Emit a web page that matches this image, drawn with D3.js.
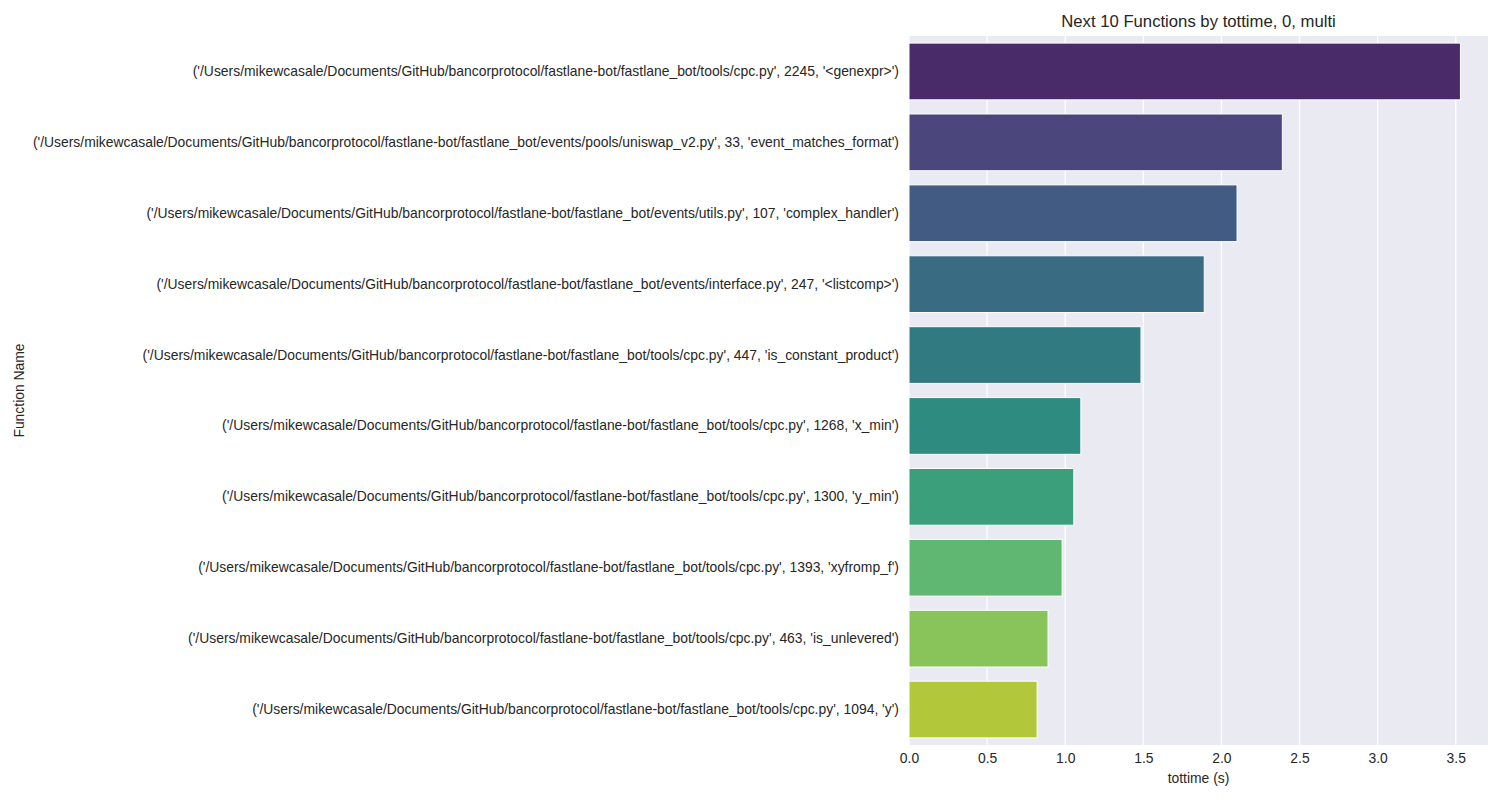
<!DOCTYPE html>
<html>
<head>
	<meta charset="utf-8">
	<script src="https://d3js.org/d3.v7.min.js"></script>
	<style type="text/css">
		body { margin: 0; background: #fff; }
		svg text { font-family: 'Liberation Sans', Arial, sans-serif; fill: #262626; }
	</style>
</head>
<body>
	<script type="text/javascript">
		// function names, top to bottom
		var names = [
			"('/Users/mikewcasale/Documents/GitHub/bancorprotocol/fastlane-bot/fastlane_bot/tools/cpc.py', 2245, '<genexpr>')",
			"('/Users/mikewcasale/Documents/GitHub/bancorprotocol/fastlane-bot/fastlane_bot/events/pools/uniswap_v2.py', 33, 'event_matches_format')",
			"('/Users/mikewcasale/Documents/GitHub/bancorprotocol/fastlane-bot/fastlane_bot/events/utils.py', 107, 'complex_handler')",
			"('/Users/mikewcasale/Documents/GitHub/bancorprotocol/fastlane-bot/fastlane_bot/events/interface.py', 247, '<listcomp>')",
			"('/Users/mikewcasale/Documents/GitHub/bancorprotocol/fastlane-bot/fastlane_bot/tools/cpc.py', 447, 'is_constant_product')",
			"('/Users/mikewcasale/Documents/GitHub/bancorprotocol/fastlane-bot/fastlane_bot/tools/cpc.py', 1268, 'x_min')",
			"('/Users/mikewcasale/Documents/GitHub/bancorprotocol/fastlane-bot/fastlane_bot/tools/cpc.py', 1300, 'y_min')",
			"('/Users/mikewcasale/Documents/GitHub/bancorprotocol/fastlane-bot/fastlane_bot/tools/cpc.py', 1393, 'xyfromp_f')",
			"('/Users/mikewcasale/Documents/GitHub/bancorprotocol/fastlane-bot/fastlane_bot/tools/cpc.py', 463, 'is_unlevered')",
			"('/Users/mikewcasale/Documents/GitHub/bancorprotocol/fastlane-bot/fastlane_bot/tools/cpc.py', 1094, 'y')"
		];
		var tottime = [3.53, 2.39, 2.10, 1.89, 1.485, 1.10, 1.055, 0.98, 0.89, 0.82];
		var xTicks = [0, 0.5, 1.0, 1.5, 2.0, 2.5, 3.0, 3.5];

		var W = 1500, H = 800;
		var pLeft = 909, pRight = 1488, pTop = 36, pBottom = 745;
		var fs = '13.9px';

		var svg = d3.select('body').append('svg')
			.attr('width', W)
			.attr('height', H);

		var x = d3.scaleLinear()
			.domain([0, d3.max(tottime) * 1.05])
			.range([pLeft, pRight]);

		var y = d3.scaleBand()
			.domain(names)
			.range([pTop, pBottom])
			.paddingInner(0.2)
			.paddingOuter(0.1);

		// seaborn-ish viridis with 0.75 saturation
		var colors = names.map(function(d, i){
			var c = d3.hsl(d3.interpolateViridis((i + 1) / (names.length + 1)));
			c.s = c.s * 0.75;
			return c.formatHex();
		});

		svg.append('rect')
			.attr('x', pLeft).attr('y', pTop)
			.attr('width', pRight - pLeft).attr('height', pBottom - pTop)
			.attr('fill', '#eaeaf2');

		svg.append('g')
			.selectAll('line')
			.data(xTicks)
			.enter()
			.append('line')
			.attr('x1', function(d){ return x(d); })
			.attr('x2', function(d){ return x(d); })
			.attr('y1', pTop).attr('y2', pBottom)
			.attr('stroke', '#fff')
			.attr('stroke-width', 1.25);

		svg.append('g')
			.selectAll('rect')
			.data(tottime)
			.enter()
			.append('rect')
			.attr('x', x(0))
			.attr('y', function(d, i){ return y(names[i]); })
			.attr('width', function(d){ return x(d) - x(0); })
			.attr('height', y.bandwidth())
			.attr('fill', function(d, i){ return colors[i]; })
			.attr('stroke', '#fff')
			.attr('stroke-width', 1);

		var xAxis = svg.append('g')
			.attr('transform', 'translate(0,' + pBottom + ')')
			.call(d3.axisBottom(x).tickValues(xTicks).tickFormat(d3.format('.1f')).tickSize(0).tickPadding(8));
		xAxis.select('.domain').remove();
		xAxis.selectAll('text').style('font-size', fs).attr('fill', '#262626');

		var yAxis = svg.append('g')
			.attr('transform', 'translate(' + pLeft + ',0)')
			.call(d3.axisLeft(y).tickSize(0).tickPadding(10));
		yAxis.select('.domain').remove();
		yAxis.selectAll('text').style('font-size', fs).attr('fill', '#262626');

		svg.append('text')
			.attr('x', (pLeft + pRight) / 2)
			.attr('y', 783)
			.attr('text-anchor', 'middle')
			.style('font-size', fs)
			.text('tottime (s)');

		svg.append('text')
			.attr('transform', 'translate(24,' + ((pTop + pBottom) / 2) + ') rotate(-90)')
			.attr('text-anchor', 'middle')
			.style('font-size', fs)
			.text('Function Name');

		svg.append('text')
			.attr('x', (pLeft + pRight) / 2)
			.attr('y', 27)
			.attr('text-anchor', 'middle')
			.style('font-size', '16.7px')
			.text('Next 10 Functions by tottime, 0, multi');
	</script>
</body>
</html>
